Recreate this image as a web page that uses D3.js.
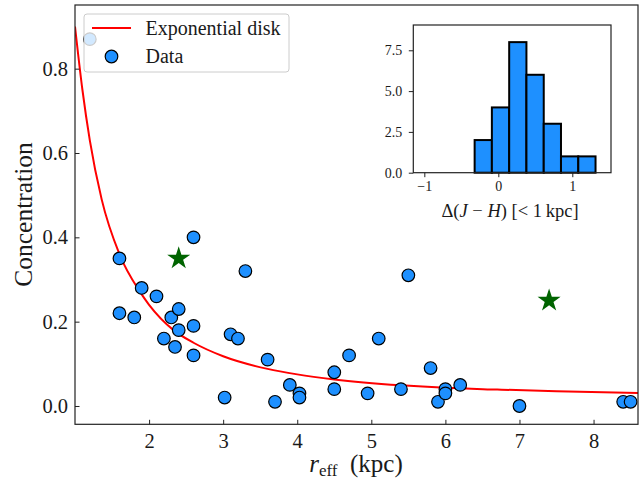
<!DOCTYPE html>
<html lang="en">
    <head>
        <meta charset="utf-8" />
        <title>Concentration vs effective radius</title>
        <script type="text/javascript" src="https://cdn.jsdelivr.net/npm/d3@7/dist/d3.min.js"></script>
        <style>
            body { margin: 0; background: #fff; }
            svg text { font-family: "Liberation Serif", "DejaVu Serif", serif; fill: #1a1a1a; }
        </style>
    </head>
    <body>
        <svg width="642" height="483"></svg>

        <script type="text/javascript">
            // scatter data: effective radius (kpc) and concentration
            var reff = [1.2, 1.6, 1.6, 1.8, 1.9, 2.1, 2.2, 2.3, 2.35, 2.4, 2.4, 2.6, 2.6, 2.6,
                        3.02, 3.1, 3.2, 3.3, 3.6, 3.7, 3.9, 4.03, 4.03, 4.5, 4.5, 4.7, 4.95,
                        5.1, 5.4, 5.5, 5.8, 5.9, 6.0, 6.0, 6.2, 7.0, 8.4, 8.5];
            var conc = [0.87, 0.35, 0.22, 0.21, 0.28, 0.26, 0.16, 0.21, 0.14, 0.23, 0.18, 0.40, 0.19, 0.12,
                        0.02, 0.17, 0.16, 0.32, 0.11, 0.01, 0.05, 0.03, 0.02, 0.08, 0.04, 0.12, 0.03,
                        0.16, 0.04, 0.31, 0.09, 0.01, 0.04, 0.03, 0.05, 0.00, 0.01, 0.01];

            // the two special objects (stars)
            var starReff = [2.4, 7.4];
            var starConc = [0.35, 0.25];

            // exponential disk model
            var modelReff = [1.0, 1.1, 1.2, 1.36, 1.6, 1.88, 2.0, 2.33, 2.6, 3.0, 3.6, 4.0, 4.5, 5.4, 6.0, 6.7, 7.5, 8.6];
            var modelConc = [0.90, 0.75, 0.63, 0.49, 0.36, 0.27, 0.24, 0.18, 0.15, 0.118, 0.088, 0.075, 0.063, 0.049, 0.043, 0.039, 0.035, 0.031];

            // inset histogram of Delta(J-H)
            var binEdges = [-1.02, -0.787, -0.553, -0.32, -0.087, 0.147, 0.38, 0.614, 0.847, 1.081, 1.314];
            var binCounts = [0, 0, 0, 2, 4, 8, 6, 3, 1, 1];

            var xTicks = [2, 3, 4, 5, 6, 7, 8];
            var yTicks = [0.0, 0.2, 0.4, 0.6, 0.8];
            var insetXTicks = [-1, 0, 1];
            var insetYTicks = [0, 2.5, 5, 7.5];

            var svg = d3.select('svg');
            var blue = '#1E90FF';

            var x = d3.scaleLinear().domain([1.0, 8.6]).range([75, 638]);
            var y = d3.scaleLinear().domain([-0.0434, 0.951]).range([424.3, 5]);

            // model curve
            var line = d3.line()
                .x(function(d) { return x(d[0]); })
                .y(function(d) { return y(d[1]); })
                .curve(d3.curveMonotoneX);

            var clip = svg.append('clipPath').attr('id', 'main-clip')
                .append('rect').attr('x', 75).attr('y', 5).attr('width', 563).attr('height', 419.3);

            var plot = svg.append('g').attr('clip-path', 'url(#main-clip)');

            plot.append('path')
                .datum(d3.zip(modelReff, modelConc))
                .attr('fill', 'none')
                .attr('stroke', '#ff0000')
                .attr('stroke-width', 2)
                .attr('d', line);

            plot.selectAll('circle.pt')
                .data(d3.zip(reff, conc))
                .enter()
                .append('circle')
                .attr('class', 'pt')
                .attr('cx', function(d) { return x(d[0]); })
                .attr('cy', function(d) { return y(d[1]); })
                .attr('r', 6.3)
                .attr('fill', blue)
                .attr('stroke', '#000')
                .attr('stroke-width', 1.2);

            var star = d3.symbol().type(d3.symbolStar).size(165);
            plot.selectAll('path.star')
                .data(d3.zip(starReff, starConc))
                .enter()
                .append('path')
                .attr('class', 'star')
                .attr('transform', function(d) { return 'translate(' + x(d[0]) + ',' + y(d[1]) + ')'; })
                .attr('d', star)
                .attr('fill', '#006400');

            // axes, ticks point inward
            var xAxis = svg.append('g')
                .attr('transform', 'translate(0,424.3)')
                .call(d3.axisBottom(x).tickValues(xTicks).tickFormat(d3.format('d'))
                    .tickSizeInner(-4.5).tickSizeOuter(0).tickPadding(9));
            var yAxis = svg.append('g')
                .attr('transform', 'translate(75,0)')
                .call(d3.axisLeft(y).tickValues(yTicks).tickFormat(d3.format('.1f'))
                    .tickSizeInner(-4.5).tickSizeOuter(0).tickPadding(7));

            [xAxis, yAxis].forEach(function(a) {
                a.select('.domain').remove();
                a.selectAll('.tick line').attr('stroke', '#222').attr('stroke-width', 1);
                a.selectAll('.tick text').attr('font-family', null).style('font-size', '20.5px').attr('fill', '#1a1a1a');
            });

            svg.append('rect')
                .attr('x', 75).attr('y', 5).attr('width', 563).attr('height', 419.3)
                .attr('fill', 'none').attr('stroke', '#222').attr('stroke-width', 1.2);

            // axis labels
            var xl = svg.append('text')
                .attr('x', 356).attr('y', 472)
                .attr('text-anchor', 'middle')
                .style('font-size', '25px');
            xl.append('tspan').attr('font-style', 'italic').text('r');
            xl.append('tspan').attr('dy', 4).style('font-size', '17px').text('eff');
            xl.append('tspan').attr('dy', -4).text('\u2002(kpc)');

            svg.append('text')
                .attr('transform', 'translate(32,214.5) rotate(-90)')
                .attr('text-anchor', 'middle')
                .style('font-size', '25.5px')
                .text('Concentration');

            // legend, semi transparent like matplotlib's
            var legend = svg.append('g');
            legend.append('rect')
                .attr('x', 84).attr('y', 14).attr('width', 205).attr('height', 58).attr('rx', 3)
                .attr('fill', '#fff').attr('fill-opacity', 0.8)
                .attr('stroke', '#cccccc').attr('stroke-width', 1);
            legend.append('line')
                .attr('x1', 92).attr('x2', 131).attr('y1', 28).attr('y2', 28)
                .attr('stroke', '#ff0000').attr('stroke-width', 2);
            legend.append('circle')
                .attr('cx', 111.5).attr('cy', 56.5).attr('r', 6.3)
                .attr('fill', blue).attr('stroke', '#000').attr('stroke-width', 1.2);
            legend.append('text').attr('x', 145.5).attr('y', 35).style('font-size', '20px').text('Exponential disk');
            legend.append('text').attr('x', 145.5).attr('y', 63).style('font-size', '20px').text('Data');

            // inset histogram
            var ix = d3.scaleLinear().domain([-1.149, 1.523]).range([413.3, 611]);
            var iy = d3.scaleLinear().domain([0, 9.05]).range([172.7, 25]);

            var inset = svg.append('g');
            inset.append('rect')
                .attr('x', 413.3).attr('y', 25).attr('width', 197.7).attr('height', 147.7)
                .attr('fill', '#fff');

            var bins = binCounts.map(function(c, i) {
                return { x0: binEdges[i], x1: binEdges[i + 1], n: c };
            });
            inset.selectAll('rect.bar')
                .data(bins)
                .enter()
                .append('rect')
                .attr('class', 'bar')
                .attr('x', function(d) { return ix(d.x0); })
                .attr('width', function(d) { return ix(d.x1) - ix(d.x0); })
                .attr('y', function(d) { return iy(d.n); })
                .attr('height', function(d) { return iy(0) - iy(d.n); })
                .attr('fill', blue)
                .attr('stroke', '#000')
                .attr('stroke-width', 2);

            var ixAxis = inset.append('g')
                .attr('transform', 'translate(0,172.7)')
                .call(d3.axisBottom(ix).tickValues(insetXTicks).tickFormat(d3.format('d'))
                    .tickSizeInner(4.5).tickSizeOuter(0).tickPadding(4));
            var iyAxis = inset.append('g')
                .attr('transform', 'translate(413.3,0)')
                .call(d3.axisLeft(iy).tickValues(insetYTicks).tickFormat(d3.format('.1f'))
                    .tickSizeInner(4.5).tickSizeOuter(0).tickPadding(6.5));

            [ixAxis, iyAxis].forEach(function(a) {
                a.select('.domain').remove();
                a.selectAll('.tick line').attr('stroke', '#222').attr('stroke-width', 1);
                a.selectAll('.tick text').attr('font-family', null).style('font-size', '14px').attr('fill', '#1a1a1a');
            });

            inset.append('rect')
                .attr('x', 413.3).attr('y', 25).attr('width', 197.7).attr('height', 147.7)
                .attr('fill', 'none').attr('stroke', '#222').attr('stroke-width', 1.2);

            var il = inset.append('text')
                .attr('x', 510).attr('y', 217)
                .attr('text-anchor', 'middle')
                .style('font-size', '18.5px');
            il.append('tspan').text('\u0394(');
            il.append('tspan').attr('font-style', 'italic').text('J');
            il.append('tspan').text(' \u2212 ');
            il.append('tspan').attr('font-style', 'italic').text('H');
            il.append('tspan').text(') [< 1\u2009kpc]');
        </script>
    </body>
</html>
